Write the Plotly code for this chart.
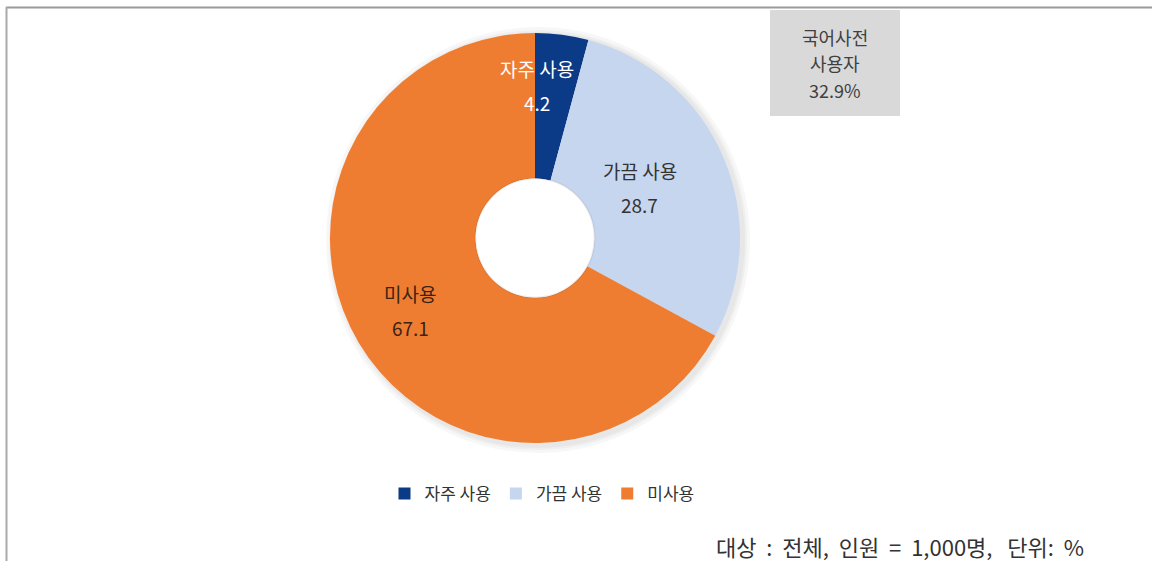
import math
import plotly.graph_objects as go

categories = ["자주 사용", "가끔 사용", "미사용"]
values = [4.2, 28.7, 67.1]
colors = ["#0b3a86", "#c6d6ee", "#ef7d31"]
label_colors = ["#ffffff", "#333333", "#3b2414"]
label_radius = [0.75, 0.57, 0.70]
label_angle_shift = [-7, -3, 1]

box_lines = ["국어사전", "사용자", "32.9%"]
note_text = "대상  :  전체,  인원  =  1,000명,   단위:  %"

W, H = 1152, 561
cx, cy, R = 535, 238, 205
HOLE = 0.29
FONT = "Noto Sans CJK KR"

def px(x):
    return x / W

def py(y):
    return 1 - y / H

fig = go.Figure()
fig.add_trace(go.Pie(
    labels=categories, values=values, sort=False, direction="clockwise",
    rotation=0, hole=HOLE,
    marker=dict(colors=colors, line=dict(width=0)),
    textinfo="none", hoverinfo="label+value",
    domain=dict(x=[px(cx - R), px(cx + R)], y=[py(cy + R), py(cy - R)]),
))

# labels placed from slice mid-angles
total = sum(values)
cum = 0
annotations = []
for i, (c, v) in enumerate(zip(categories, values)):
    mid = (cum + v / 2) / total * 360 + label_angle_shift[i]
    cum += v
    r = label_radius[i] * R
    lx = cx + r * math.sin(math.radians(mid))
    ly = cy - r * math.cos(math.radians(mid))
    for txt, dy in ((c, -16), (str(v), 18)):
        annotations.append(dict(
            x=px(lx), y=py(ly + dy), xref="paper", yref="paper",
            text=txt, showarrow=False, xanchor="center", yanchor="middle",
            font=dict(family=FONT, size=19, color=label_colors[i]),
        ))

for j, line in enumerate(box_lines):
    annotations.append(dict(
        x=px(835), y=py(37 + 26.5 * j), xref="paper", yref="paper", text=line,
        showarrow=False, xanchor="center", yanchor="middle",
        font=dict(family=FONT, size=18, color="#404040"),
    ))
annotations.append(dict(
    x=px(1086), y=py(546), xref="paper", yref="paper", text=note_text,
    showarrow=False, xanchor="right", yanchor="middle",
    font=dict(family=FONT, size=22, color="#333333"),
))

shapes = [
    # soft shadow around the pie
    *[dict(type="circle", xref="paper", yref="paper", layer="below",
           x0=px(cx - R - d + 3), x1=px(cx + R + d + 3),
           y0=py(cy + R + d + 3), y1=py(cy - R - d + 1),
           fillcolor="rgba(0,0,0,0.03)", line=dict(width=0))
      for d in (2, 4, 7)],
    # white hole on top of shadow
    dict(type="circle", xref="paper", yref="paper", layer="above",
         x0=px(cx - HOLE * R), x1=px(cx + HOLE * R),
         y0=py(cy + HOLE * R), y1=py(cy - HOLE * R),
         fillcolor="white", line=dict(color="rgba(0,0,0,0.06)", width=2)),
    dict(type="rect", xref="paper", yref="paper",
         x0=px(770), x1=px(900), y0=py(116), y1=py(10),
         fillcolor="#d9d9d9", line=dict(width=0), layer="below"),
    dict(type="line", xref="paper", yref="paper",
         x0=px(6), x1=1, y0=py(7.5), y1=py(7.5),
         line=dict(color="#999999", width=2)),
    dict(type="line", xref="paper", yref="paper",
         x0=px(6.5), x1=px(6.5), y0=0, y1=py(7),
         line=dict(color="#aaaaaa", width=2)),
]

fig.update_layout(
    width=W, height=H, margin=dict(l=0, r=0, t=0, b=0),
    paper_bgcolor="white", plot_bgcolor="white",
    showlegend=True,
    legend=dict(orientation="h", x=px(542), y=py(494), xanchor="center",
                yanchor="middle", font=dict(family=FONT, size=17, color="#333333"),
                itemwidth=30, traceorder="normal"),
    annotations=annotations, shapes=shapes,
)

fig.write_html("out.html", config={"displayModeBar": False},
               post_script="document.body.style.margin='0';")
